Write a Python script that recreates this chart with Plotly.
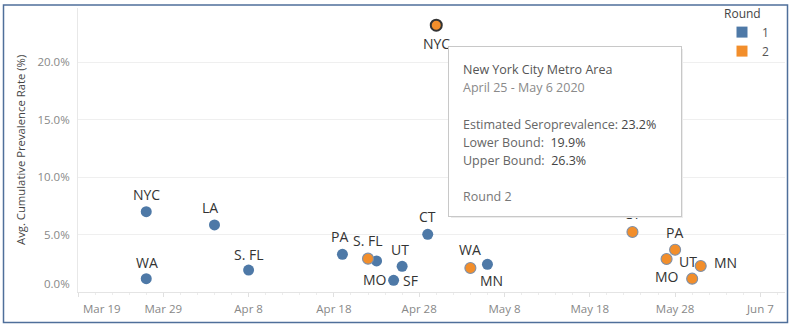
import pandas as pd
import plotly.graph_objects as go

# ---- data -------------------------------------------------------------
# Round 1 sites (blue)
r1_sites = ["NYC", "WA", "LA", "S. FL", "PA", "MO", "SF", "UT", "CT", "MN"]
r1_dates = ["2020-03-27", "2020-03-27", "2020-04-04", "2020-04-08", "2020-04-19",
            "2020-04-23", "2020-04-25", "2020-04-26", "2020-04-29", "2020-05-06"]
r1_rates = [6.98, 1.16, 5.83, 1.91, 3.28, 2.70, 1.02, 2.23, 5.02, 2.41]

# Round 2 sites (orange)
r2_sites = ["S. FL", "NYC", "WA", "CT", "MO", "PA", "UT", "MN"]
r2_dates = ["2020-04-22", "2020-04-30", "2020-05-04", "2020-05-23",
            "2020-05-27", "2020-05-28", "2020-05-30", "2020-05-31"]
r2_rates = [2.90, 23.2, 2.09, 5.22, 2.87, 3.68, 1.16, 2.26]

# Hovered site details
tip_area = "New York City Metro Area"
tip_window = "April 25 - May 6 2020"
tip_round = "Round 2"
tip_lower = 19.9
tip_upper = 26.3
tip_index = r2_sites.index("NYC")

# Axis ticks
x_tick_dates = ["2020-03-19", "2020-03-29", "2020-04-08", "2020-04-18", "2020-04-28",
                "2020-05-08", "2020-05-18", "2020-05-28", "2020-06-07"]
x_tick_text = ["Mar 19", "Mar 29", "Apr 8", "Apr 18", "Apr 28",
               "May 8", "May 18", "May 28", "Jun 7"]
y_tick_vals = [0, 5, 10, 15, 20]

# ---- styling ------------------------------------------------------------
BLUE = "#4e79a7"
ORANGE = "#f28e2b"
FONT = "Open Sans"
W, H = 795, 330
PL, PR, PT, PB = 78, 785, 8, 292          # plot area in pixels
PX_PER_DAY = 8.53

# label offsets (dx, dy in px, screen y downward) and anchor per site
r1_label_pos = {
    "NYC": (0, -17, "center"), "WA": (1, -16, "center"), "LA": (-4, -17, "center"),
    "S. FL": (0, -16, "center"), "PA": (-3, -18, "center"), "MO": (-2, 19, "center"),
    "SF": (7, 0, "left"), "UT": (-2, -17, "center"), "CT": (0, -18, "center"),
    "MN": (4, 16, "center"),
}
r2_label_pos = {
    "S. FL": (0, -18, "center"), "NYC": (0, 18, "center"), "WA": (0, -18, "center"),
    "CT": (0, -18, "center"), "MO": (0, 17, "center"), "PA": (-1, -17, "center"),
    "UT": (-4, -17, "center"), "MN": (11, -4, "left"),
}


def pxx(xp):
    return (xp - PL) / (PR - PL)


def pxy(yp):
    return (PB - yp) / (PB - PT)


x_start = pd.Timestamp("2020-03-19")
x_end = x_start + pd.Timedelta(days=(PR - PL) / PX_PER_DAY)

fig = go.Figure()

fig.add_trace(go.Scatter(
    x=r1_dates, y=r1_rates, mode="markers", showlegend=False,
    marker=dict(color=BLUE, size=11, line=dict(width=0)),
    hoverinfo="skip",
))

r2_line_colors = ["#7d8fa8"] * len(r2_sites)
r2_line_widths = [1.1] * len(r2_sites)
r2_line_colors[tip_index] = "#333333"
r2_line_widths[tip_index] = 2.0
fig.add_trace(go.Scatter(
    x=r2_dates, y=r2_rates, mode="markers", showlegend=False,
    marker=dict(color=ORANGE, size=11,
                line=dict(color=r2_line_colors, width=r2_line_widths)),
    hoverinfo="skip",
))

# legend entries
fig.add_trace(go.Scatter(x=[None], y=[None], mode="markers", name="1",
                         marker=dict(symbol="square", size=11, color=BLUE)))
fig.add_trace(go.Scatter(x=[None], y=[None], mode="markers", name="2",
                         marker=dict(symbol="square", size=11, color=ORANGE)))

annotations = []

# point labels
for sites, dates, rates, pos in ((r1_sites, r1_dates, r1_rates, r1_label_pos),
                                 (r2_sites, r2_dates, r2_rates, r2_label_pos)):
    for s, d, r in zip(sites, dates, rates):
        dx, dy, anchor = pos[s]
        annotations.append(dict(
            x=d, y=r, xref="x", yref="y", text=s, showarrow=False,
            xanchor=anchor, yanchor="middle", xshift=dx, yshift=-dy,
            font=dict(family=FONT, size=14, color="#333333"),
        ))

# tooltip card
TIP_L, TIP_T, TIP_R, TIP_B = 447.5, 46, 681, 216.5
for off, col, bw in ((3, "#ececec", 0), (1.5, "#d4d4d4", 0), (0, "#ffffff", 1)):
    annotations.append(dict(
        x=pxx(TIP_L + off), y=pxy(TIP_T + off), xref="paper", yref="paper",
        xanchor="left", yanchor="top", text=" ", showarrow=False,
        width=TIP_R - TIP_L - 2, height=TIP_B - TIP_T - 2,
        bgcolor=col, bordercolor="#c8c8c8", borderwidth=bw, borderpad=0,
    ))

tip_lines = [
    (69.3, f'<span style="color:#555555">{tip_area}</span>'),
    (87.3, f'<span style="color:#8a8a8a">{tip_window}</span>'),
    (124.0, f'<span style="color:#666666">Estimated Seroprevalence: </span>'
            f'<span style="color:#444444">{r2_rates[tip_index]:.1f}%</span>'),
    (142.3, f'<span style="color:#666666">Lower Bound:  </span>'
            f'<span style="color:#444444">{tip_lower:.1f}%</span>'),
    (160.0, f'<span style="color:#666666">Upper Bound:  </span>'
            f'<span style="color:#444444">{tip_upper:.1f}%</span>'),
    (196.0, f'<span style="color:#777777">{tip_round}</span>'),
]
for yc, txt in tip_lines:
    annotations.append(dict(
        x=pxx(460.5), y=pxy(yc), xref="paper", yref="paper",
        xanchor="left", yanchor="middle", text=txt, showarrow=False,
        font=dict(family=FONT, size=12.5),
    ))

# y-axis title
annotations.append(dict(
    x=pxx(20), y=pxy(150), xref="paper", yref="paper", textangle=-90,
    text="Avg. Cumulative Prevalence Rate (%)", showarrow=False,
    xanchor="center", yanchor="middle",
    font=dict(family=FONT, size=11.3, color="#444444"),
))
# edge tick labels nudged inside the axis extent
annotations.append(dict(
    x=pxx(72), y=0, xref="paper", yref="y", text="0.0%", showarrow=False,
    xanchor="right", yanchor="middle", yshift=9,
    font=dict(family=FONT, size=11.5, color="#888888"),
))
annotations.append(dict(
    x=x_tick_dates[0], y=pxy(308.5), xref="x", yref="paper", text=x_tick_text[0],
    showarrow=False, xanchor="left", yanchor="middle", xshift=3,
    font=dict(family=FONT, size=11.5, color="#888888"),
))

shapes = [dict(
    type="rect", xref="paper", yref="paper",
    x0=pxx(3.5), x1=pxx(787.5), y0=pxy(322.5), y1=pxy(5),
    line=dict(color="#4f6f9a", width=1.5), fillcolor="rgba(0,0,0,0)", layer="above",
)]

fig.update_layout(
    width=W, height=H,
    margin=dict(l=PL, r=W - PR, t=PT, b=H - PB, autoexpand=False),
    paper_bgcolor="white", plot_bgcolor="white",
    font=dict(family=FONT, color="#555555"),
    annotations=annotations,
    shapes=shapes,
    legend=dict(
        title=dict(text="Round", font=dict(family=FONT, size=12, color="#444444")),
        x=pxx(722), y=pxy(2), xanchor="left", yanchor="top",
        bgcolor="rgba(0,0,0,0)", font=dict(family=FONT, size=12, color="#555555"),
        itemwidth=30, tracegroupgap=0,
    ),
    xaxis=dict(
        type="date", range=[x_start, x_end],
        tickvals=x_tick_dates, ticktext=[""] + x_tick_text[1:],
        tickfont=dict(family=FONT, size=11.5, color="#888888"),
        showgrid=False, zeroline=False,
        showline=True, linecolor="#e4e4e4", linewidth=1,
        ticks="outside", ticklen=4, tickcolor="#e0e0e0",
        minor=dict(ticks="outside", ticklen=2, tickcolor="#ececec",
                   dtick=2 * 86400000, tick0="2020-03-19"),
        ticklabelstandoff=2,
        automargin=False,
        fixedrange=True,
    ),
    yaxis=dict(
        range=[0, (PB - PT) / 11.5],
        tickvals=y_tick_vals[1:], ticktext=[f"{v:.1f}%" for v in y_tick_vals[1:]],
        tickfont=dict(family=FONT, size=11.5, color="#888888"),
        showgrid=True, gridcolor="#efefef", gridwidth=1,
        zeroline=False, showline=True, linecolor="#e8e8e8", linewidth=1,
        ticks="", ticklabelstandoff=5,
        automargin=False,
        fixedrange=True,
    ),
)

fig.write_html("out.html")
